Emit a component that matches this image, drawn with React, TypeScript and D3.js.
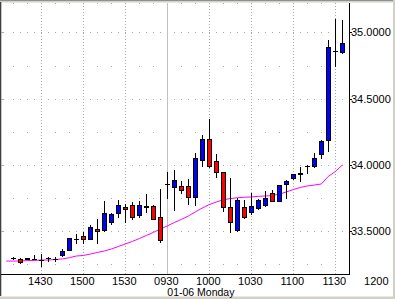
import React from "react";
import * as d3 from "d3";

// x-axis slots (5-minute bars), previous session afternoon then 01-06 morning
const axisSlots = [
  "1405","1410","1415","1420","1425","1430","1435","1440","1445","1450","1455",
  "1500","1505","1510","1515","1520","1525","1530","1535","1540","1545","1550","1555",
  "0930","0935","0940","0945","0950","0955","1000","1005","1010","1015","1020","1025",
  "1030","1035","1040","1045","1050","1055","1100","1105","1110","1115","1120","1125",
  "1130","1135","1140","1145","1150","1155","1200",
];

const candleTimes = [
  "1410","1415","1420","1425","1430","1435","1440","1445","1450","1455",
  "1500","1505","1510","1515","1520","1525","1530","1535","1540","1545","1550","1555",
  "0930","0935","0940","0945","0950","0955","1000","1005","1010","1015","1020","1025",
  "1030","1035","1040","1045","1050","1055","1100","1105","1110","1115","1120","1125",
  "1130","1135",
];

const openP = [
  33.294, 33.291, 33.286, 33.292, 33.281, 33.298, 33.292, 33.315, 33.354, 33.440,
  33.466, 33.443, 33.513, 33.504, 33.570, 33.634, 33.685, 33.696, 33.621, 33.679, 33.689, 33.602,
  33.855, 33.835, 33.840, 33.838, 33.755, 34.036, 34.193, 34.025, 33.943, 33.684, 33.504, 33.685,
  33.640, 33.670, 33.693, 33.785, 33.729, 33.853, 33.898, 33.928, 33.991, 33.993, 34.079, 34.187,
  34.856, 34.850,
];
const highP = [
  33.304, 33.296, 33.296, 33.316, 33.323, 33.300, 33.300, 33.364, 33.447, 33.475,
  33.490, 33.549, 33.591, 33.730, 33.636, 33.734, 33.704, 33.719, 33.723, 33.779, 33.696, 33.815,
  33.946, 33.961, 33.878, 33.893, 34.089, 34.225, 34.344, 34.082, 33.946, 33.900, 33.747, 33.734,
  33.785, 33.738, 33.802, 33.810, 33.847, 33.885, 33.934, 33.987, 33.995, 34.087, 34.187, 34.943,
  35.101, 35.090,
];
const lowP = [
  33.290, 33.262, 33.285, 33.290, 33.232, 33.273, 33.270, 33.311, 33.353, 33.412,
  33.406, 33.440, 33.413, 33.500, 33.553, 33.606, 33.570, 33.594, 33.606, 33.647, 33.591, 33.417,
  33.749, 33.659, 33.787, 33.704, 33.696, 33.991, 33.983, 33.910, 33.651, 33.495, 33.500, 33.598,
  33.626, 33.666, 33.689, 33.727, 33.727, 33.747, 33.893, 33.881, 33.936, 33.983, 34.051, 34.108,
  34.746, 34.848,
];
const closeP = [
  33.296, 33.266, 33.294, 33.292, 33.281, 33.298, 33.292, 33.349, 33.445, 33.440,
  33.443, 33.528, 33.498, 33.636, 33.628, 33.696, 33.668, 33.608, 33.696, 33.687, 33.594, 33.432,
  33.855, 33.883, 33.813, 33.755, 34.049, 34.193, 33.991, 33.943, 33.684, 33.566, 33.734, 33.608,
  33.689, 33.734, 33.749, 33.730, 33.845, 33.878, 33.927, 33.940, 33.991, 34.049, 34.178, 34.886,
  34.863, 34.920,
];

// moving average (magenta)
const maTimes = ["1405", ...candleTimes];
const maValues = [
  33.273, 33.273, 33.273, 33.277, 33.277, 33.281, 33.281, 33.285, 33.289, 33.298, 33.311,
  33.315, 33.326, 33.338, 33.349, 33.364, 33.383, 33.402, 33.421, 33.443, 33.466, 33.489, 33.515,
  33.538, 33.564, 33.587, 33.613, 33.644, 33.674, 33.700, 33.719, 33.736, 33.745, 33.751, 33.755,
  33.757, 33.762, 33.764, 33.768, 33.779, 33.795, 33.813, 33.829, 33.840, 33.847, 33.855, 33.912,
  33.949, 33.998,
];

const yTicks = [33.5, 34.0, 34.5, 35.0];
const yMinorTicks = [33.25, 33.75, 34.25, 34.75];
const xLabelTimes = ["1430", "1500", "1530", "0930", "1000", "1030", "1100", "1130", "1200"];
const dayBreak = "0930";
const dateLabel = "01-06 Monday";

const FONT = "'Liberation Sans', Arial, sans-serif";

export default function App() {
  const W = 395;
  const H = 299;
  const plotTop = 3;
  const plotBottom = 274;
  const plotRight = 349;

  const x = d3.scalePoint<string>().domain(axisSlots).range([6.3, 377.3]);
  const y = d3.scaleLinear().domain([33.5, 35]).range([231, 32.4]);
  const px = (t: string) => Math.round(x(t) as number);

  const gridDots: JSX.Element[] = [];
  yTicks.forEach((v) => {
    const yy = Math.round(y(v));
    candleTimes.forEach((t) => {
      gridDots.push(<rect key={`M${v}${t}`} x={px(t)} y={yy} width={1} height={1} fill="#a8a8a8" />);
    });
  });
  [...yMinorTicks, 35.25].forEach((v) => {
    const yy = Math.max(plotTop, Math.round(y(v)));
    candleTimes.forEach((t) => {
      if (axisSlots.indexOf(t) % 2 === 1) {
        gridDots.push(<rect key={`m${v}${t}`} x={px(t)} y={yy} width={1} height={1} fill="#a8a8a8" />);
      }
    });
  });

  const maLine = d3
    .line<number>()
    .x((_, i) => x(maTimes[i]) as number)
    .y((d) => y(d))(maValues) as string;

  return (
    <svg
      width={W}
      height={H}
      style={{ position: "absolute", left: 0, top: 0, background: "#ffffff" }}
      fontFamily={FONT}
    >
      <rect x={0} y={0} width={W} height={H} fill="#ffffff" />
      {/* window chrome */}
      <rect x={0} y={0} width={W} height={1} fill="#909090" />
      <rect x={0} y={1} width={W} height={1.5} fill="#d4d0c8" />
      <rect x={0} y={296.5} width={W} height={2.5} fill="#d4d0c8" />
      <rect x={393} y={0} width={2} height={H} fill="#d4d0c8" />
      <rect x={0} y={2} width={1.3} height={294} fill="#404040" />

      {/* horizontal grid dots */}
      {gridDots}
      {/* left ticks */}
      {yTicks.map((v) => (
        <rect key={`lt${v}`} x={1} y={Math.round(y(v))} width={3} height={1} fill="#a8a8a8" />
      ))}

      {/* vertical grid */}
      {xLabelTimes
        .filter((t) => t !== "1200")
        .map((t) =>
          t === dayBreak ? (
            <line key={`v${t}`} x1={px(t) + 0.5} x2={px(t) + 0.5} y1={plotTop} y2={plotBottom} stroke="#c0c0c0" strokeWidth={1} />
          ) : (
            <line key={`v${t}`} x1={px(t) + 0.5} x2={px(t) + 0.5} y1={plotTop} y2={plotBottom} stroke="#a8a8a8" strokeWidth={1} strokeDasharray="1 2" />
          )
        )}

      {/* moving average */}
      <path d={maLine} fill="none" stroke="#ff00ff" strokeWidth={1} />

      {/* candles */}
      {candleTimes.map((t, i) => {
        const c = px(t);
        const o = openP[i], h = highP[i], l = lowP[i], cl = closeP[i];
        const top = Math.round(y(Math.max(o, cl)));
        const bot = Math.round(y(Math.min(o, cl)));
        const color = cl > o ? "#0000ff" : cl < o ? "#ff0000" : "#000000";
        return (
          <g key={`c${t}`}>
            <line x1={c + 0.5} x2={c + 0.5} y1={Math.round(y(h))} y2={Math.round(y(l)) + 1} stroke="#000" strokeWidth={1} />
            {bot - top < 1 ? (
              <line x1={c - 2} x2={c + 3} y1={top + 0.5} y2={top + 0.5} stroke="#000" strokeWidth={1} />
            ) : (
              <rect x={c - 1.5} y={top + 0.5} width={4} height={bot - top} fill={color} stroke="#000" strokeWidth={1} />
            )}
          </g>
        );
      })}

      {/* axes frame */}
      <line x1={plotRight + 0.5} x2={plotRight + 0.5} y1={plotTop} y2={plotBottom + 1} stroke="#000" strokeWidth={1} />
      <line x1={1} x2={plotRight + 1} y1={plotBottom + 0.5} y2={plotBottom + 0.5} stroke="#000" strokeWidth={1} />

      {/* y labels */}
      {yTicks.map((v) => (
        <g key={`yl${v}`}>
          <line x1={plotRight} x2={plotRight + 3} y1={Math.round(y(v)) + 0.5} y2={Math.round(y(v)) + 0.5} stroke="#000" />
          <text x={351} y={y(v) + 4} fontSize={11} fill="#000">
            {v.toFixed(4)}
          </text>
        </g>
      ))}

      {/* x labels */}
      {xLabelTimes.map((t) => (
        <text key={`xl${t}`} x={(x(t) as number) - 1} y={284.5} fontSize={11} textAnchor="middle" fill="#000">
          {t}
        </text>
      ))}
      <text x={x(dayBreak) as number} y={296} fontSize={10.5} fill="#000">
        {dateLabel}
      </text>
    </svg>
  );
}
